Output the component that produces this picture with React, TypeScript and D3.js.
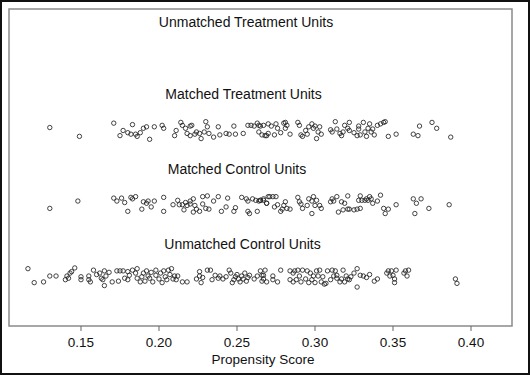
import React from "react";
import * as d3 from "d3";

const GROUP_LABELS = [
  "Unmatched Treatment Units",
  "Matched Treatment Units",
  "Matched Control Units",
  "Unmatched Control Units",
];
const GROUP_LEVELS = [4, 3, 2, 1];
const X_TICKS = [0.15, 0.2, 0.25, 0.3, 0.35, 0.4];
const X_TITLE = "Propensity Score";

// [propensity score, vertical jitter]
const unmatchedTreatment: [number, number][] = [];

const matchedTreatment: [number, number][] = [
  [0.130, 0.04], [0.149, -0.08], [0.171, 0.10], [0.183, 0.08], [0.175, -0.07], [0.177, 0.00],
  [0.180, -0.03], [0.182, -0.05], [0.185, -0.05], [0.186, -0.08], [0.188, -0.03], [0.190, 0.03],
  [0.192, 0.05], [0.194, -0.12], [0.197, 0.05], [0.202, 0.07], [0.203, 0.03], [0.211, 0.00],
  [0.210, -0.07], [0.214, 0.11], [0.215, 0.07], [0.217, 0.03], [0.220, 0.06], [0.221, 0.07],
  [0.218, -0.04], [0.220, -0.07], [0.223, -0.05], [0.224, -0.02], [0.226, -0.04], [0.227, -0.11],
  [0.229, -0.02], [0.230, 0.12], [0.231, 0.05], [0.232, -0.04], [0.235, -0.09], [0.238, 0.05],
  [0.239, -0.06], [0.243, -0.04], [0.245, -0.05], [0.248, 0.06], [0.249, -0.05], [0.254, -0.04],
  [0.257, 0.07], [0.259, 0.07], [0.261, 0.06], [0.263, 0.10], [0.264, 0.07], [0.264, -0.02],
  [0.266, -0.06], [0.268, -0.07], [0.270, -0.04],
  [0.265, 0.06], [0.267, 0.07], [0.269, -0.07], [0.270, 0.09], [0.272, 0.06], [0.275, 0.09],
  [0.274, -0.06], [0.276, 0.03], [0.278, -0.03], [0.280, 0.10], [0.281, 0.11], [0.281, 0.03],
  [0.284, -0.05], [0.282, 0.07], [0.289, 0.11], [0.290, 0.07], [0.291, -0.06], [0.292, -0.08],
  [0.294, 0.00], [0.295, -0.05], [0.296, 0.05], [0.298, 0.09], [0.299, 0.03], [0.300, 0.06],
  [0.301, -0.11], [0.302, -0.02], [0.303, 0.05], [0.304, -0.05], [0.310, 0.01], [0.311, -0.02],
  [0.313, 0.12], [0.314, 0.02], [0.316, -0.04], [0.317, -0.07], [0.318, -0.02], [0.319, 0.07],
  [0.321, 0.03], [0.322, 0.11], [0.322, 0.00], [0.325, -0.03], [0.327, -0.07], [0.328, 0.06],
  [0.328, 0.02], [0.329, -0.06], [0.331, 0.11], [0.332, -0.02], [0.333, -0.08], [0.334, 0.03],
  [0.335, 0.09], [0.336, -0.02], [0.337, 0.02], [0.338, -0.06], [0.340, 0.07], [0.342, 0.09],
  [0.344, 0.11], [0.345, 0.12], [0.347, -0.08], [0.352, -0.05], [0.363, -0.05], [0.366, -0.07],
  [0.367, 0.06], [0.375, 0.11], [0.378, 0.03], [0.387, -0.09],
];

const matchedControl: [number, number][] = [
  [0.130, -0.06], [0.148, 0.04], [0.171, 0.08], [0.173, 0.04], [0.176, 0.08], [0.178, 0.02],
  [0.180, -0.10], [0.182, 0.09], [0.183, 0.07], [0.185, 0.10], [0.189, -0.07], [0.190, 0.03],
  [0.192, 0.01], [0.193, 0.04], [0.195, -0.04], [0.197, 0.04], [0.203, 0.09], [0.203, -0.10],
  [0.209, -0.01], [0.212, 0.05], [0.213, -0.01], [0.215, -0.01], [0.216, -0.08], [0.217, 0.02],
  [0.218, -0.02], [0.220, 0.00], [0.220, 0.04], [0.222, -0.11], [0.222, 0.07], [0.223, -0.02],
  [0.224, -0.07], [0.226, -0.10], [0.228, 0.10], [0.228, 0.00], [0.230, -0.06], [0.231, 0.11],
  [0.232, -0.07], [0.235, 0.04], [0.238, 0.10], [0.240, -0.10], [0.243, -0.04], [0.244, 0.08],
  [0.248, -0.10], [0.249, -0.05], [0.253, 0.09], [0.256, 0.07], [0.257, -0.10], [0.257, 0.04],
  [0.258, -0.13], [0.260, 0.07], [0.262, 0.05], [0.263, -0.10], [0.264, 0.04], [0.265, 0.05],
  [0.267, 0.07], [0.269, 0.01], [0.270, 0.10],
  [0.265, 0.05], [0.267, 0.05], [0.269, 0.01], [0.271, 0.10], [0.273, 0.10], [0.275, 0.10],
  [0.274, -0.04], [0.276, -0.01], [0.278, -0.10], [0.279, -0.07], [0.280, -0.02], [0.281, 0.03],
  [0.282, -0.06], [0.284, -0.07], [0.289, 0.09], [0.290, 0.03], [0.291, 0.00], [0.292, -0.06],
  [0.295, -0.02], [0.296, 0.07], [0.298, 0.04], [0.299, 0.10], [0.298, -0.13], [0.300, -0.02],
  [0.301, 0.05], [0.303, -0.02], [0.304, -0.06], [0.310, 0.03], [0.311, 0.07], [0.312, 0.04],
  [0.314, 0.10], [0.315, -0.11], [0.317, 0.03], [0.318, -0.08], [0.319, 0.01], [0.321, 0.11],
  [0.321, -0.07], [0.322, -0.07], [0.325, -0.08], [0.327, -0.07], [0.328, 0.05], [0.329, 0.11],
  [0.330, 0.05], [0.329, -0.06], [0.332, 0.05], [0.333, 0.07], [0.334, 0.05], [0.335, 0.10],
  [0.336, 0.07], [0.337, 0.01], [0.340, 0.04], [0.342, 0.12], [0.344, -0.06], [0.345, -0.13],
  [0.347, -0.07], [0.352, -0.01], [0.363, 0.07], [0.365, 0.01], [0.368, 0.07], [0.364, -0.13],
  [0.373, -0.06], [0.386, -0.01],
];

const unmatchedControl: [number, number][] = [
  [0.116, 0.12], [0.120, -0.07], [0.126, -0.06], [0.130, 0.02], [0.134, 0.02], [0.140, -0.03],
  [0.141, 0.02], [0.142, -0.01], [0.143, 0.06], [0.144, 0.08], [0.146, 0.13], [0.150, 0.01],
  [0.150, -0.03], [0.155, 0.02], [0.155, -0.03], [0.156, -0.06], [0.158, 0.10], [0.160, 0.04],
  [0.162, 0.06], [0.163, -0.01], [0.164, -0.03], [0.165, 0.09], [0.166, 0.02], [0.168, 0.07],
  [0.165, -0.11], [0.170, -0.06], [0.173, 0.09], [0.174, -0.05], [0.175, 0.09], [0.177, 0.09],
  [0.178, -0.01], [0.180, -0.03], [0.180, 0.08], [0.181, 0.03], [0.183, 0.10], [0.185, 0.06],
  [0.186, 0.12], [0.186, -0.01], [0.188, -0.06], [0.189, 0.01], [0.190, 0.06], [0.191, -0.05],
  [0.192, 0.09], [0.193, 0.02], [0.194, -0.01], [0.195, 0.07], [0.196, -0.06], [0.198, 0.10],
  [0.198, 0.03], [0.200, -0.02], [0.201, 0.06], [0.202, -0.07], [0.203, 0.09], [0.204, 0.01],
  [0.205, -0.03], [0.206, 0.10], [0.207, 0.04], [0.208, 0.12], [0.209, -0.02], [0.210, 0.02],
  [0.211, -0.03], [0.212, 0.02], [0.215, -0.06], [0.218, -0.06], [0.224, -0.02], [0.226, 0.08],
  [0.226, 0.02], [0.227, -0.07], [0.228, 0.00], [0.231, 0.10], [0.233, 0.10], [0.234, -0.03],
  [0.236, 0.03], [0.238, -0.01], [0.239, 0.02], [0.241, -0.02], [0.243, 0.01], [0.245, 0.10],
  [0.246, 0.06], [0.247, -0.07], [0.248, -0.03], [0.249, 0.01], [0.250, 0.04], [0.251, -0.02],
  [0.252, -0.06], [0.253, 0.02], [0.254, -0.02], [0.255, 0.06], [0.256, -0.05], [0.257, 0.00],
  [0.258, 0.03], [0.261, -0.02], [0.263, 0.02], [0.265, 0.09], [0.266, 0.03], [0.267, -0.02],
  [0.269, -0.06],
  [0.266, -0.05], [0.267, 0.03], [0.268, 0.10], [0.273, 0.02], [0.273, -0.03], [0.276, -0.06],
  [0.278, 0.10], [0.284, -0.03], [0.284, 0.09], [0.286, -0.06], [0.286, 0.06], [0.287, 0.09],
  [0.288, -0.03], [0.289, 0.10], [0.290, 0.02], [0.291, -0.06], [0.292, 0.10], [0.294, -0.02],
  [0.295, 0.09], [0.296, -0.07], [0.297, 0.06], [0.298, -0.03], [0.299, 0.02], [0.300, -0.07],
  [0.301, 0.09], [0.302, 0.02], [0.303, 0.10], [0.304, -0.06], [0.305, 0.01], [0.306, -0.09],
  [0.307, -0.08], [0.308, 0.09], [0.310, -0.03], [0.311, 0.10], [0.312, 0.02], [0.313, 0.09],
  [0.314, 0.03], [0.314, -0.01], [0.316, -0.06], [0.317, -0.02], [0.318, 0.10], [0.319, -0.06],
  [0.320, 0.02], [0.321, -0.02], [0.322, -0.03], [0.323, 0.01], [0.325, 0.06], [0.327, 0.12],
  [0.327, -0.13], [0.329, 0.03], [0.331, 0.02], [0.333, 0.00], [0.335, 0.04], [0.338, -0.05],
  [0.340, -0.02], [0.346, 0.06], [0.347, 0.09], [0.348, 0.02], [0.349, 0.09], [0.350, 0.03],
  [0.351, -0.02], [0.351, -0.07], [0.352, 0.10], [0.357, 0.06], [0.358, 0.09], [0.359, 0.02],
  [0.360, 0.10], [0.390, -0.02], [0.391, -0.08],
];

const SERIES = [unmatchedTreatment, matchedTreatment, matchedControl, unmatchedControl];

// layout
const W = 530;
const H = 375;
const LEFT = 9;
const RIGHT = 512;
const TOP = 9;
const BOTTOM = 326;
const LABEL_CX = [246, 243.5, 237, 242.5];
const LABEL_BASELINE = [26.5, 99.3, 174.3, 249.3];

export default function App() {
  const x = d3.scaleLinear().domain([0.10385, 0.42628]).range([LEFT, RIGHT]);
  const y = d3.scaleLinear().domain([0.34, 4.653]).range([BOTTOM, TOP]);
  const font = "'Liberation Sans', Arial, Helvetica, sans-serif";

  return (
    <svg
      width={W}
      height={H}
      style={{ position: "fixed", left: 0, top: 0, background: "#fff" }}
      fontFamily={font}
    >
      <rect x={1} y={1} width={W - 2} height={H - 2} fill="#fff" stroke="#111" strokeWidth={2} />
      <rect
        x={LEFT}
        y={TOP}
        width={RIGHT - LEFT}
        height={BOTTOM - TOP}
        fill="none"
        stroke="#8a8a8a"
        strokeWidth={1.5}
      />
      {GROUP_LABELS.map((label, i) => (
        <text
          key={label}
          x={LABEL_CX[i]}
          y={LABEL_BASELINE[i]}
          textAnchor="middle"
          fontSize={14}
          fill="#111"
        >
          {label}
        </text>
      ))}
      {SERIES.map((pts, i) =>
        pts.map((p, j) => (
          <circle
            key={`${i}-${j}`}
            cx={x(p[0])}
            cy={y(GROUP_LEVELS[i] + p[1])}
            r={2.2}
            fill="none"
            stroke="#222"
            strokeWidth={0.85}
          />
        ))
      )}
      {X_TICKS.map((t) => (
        <g key={t} transform={`translate(${x(t)},${BOTTOM})`}>
          <line y1={0} y2={5} stroke="#666" strokeWidth={1} />
          <text y={20.5} textAnchor="middle" fontSize={13.5} fill="#111">
            {d3.format(".2f")(t)}
          </text>
        </g>
      ))}
      <text x={(LEFT + RIGHT) / 2 + 2.5} y={364} textAnchor="middle" fontSize={13.5} fill="#111">
        {X_TITLE}
      </text>
    </svg>
  );
}
